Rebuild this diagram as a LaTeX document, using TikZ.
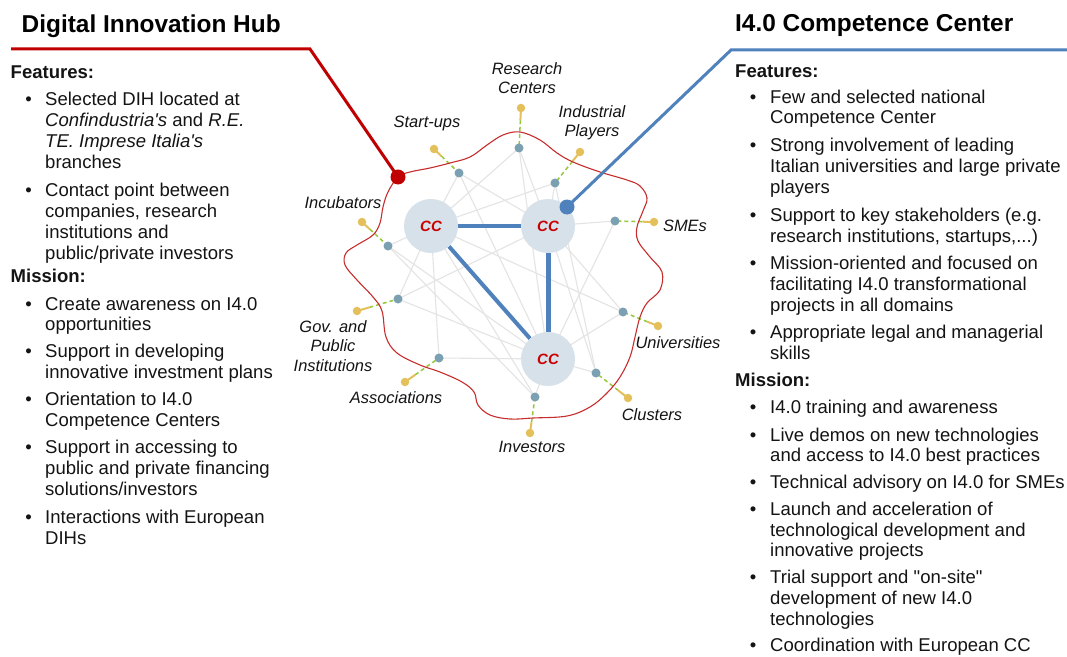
\documentclass[tikz,border=0pt]{standalone}
\usepackage{fontspec}
\setmainfont{Liberation Sans}[Ligatures=TeXOff]
\usetikzlibrary{calc}
\definecolor{redc}{RGB}{192,0,0}
\definecolor{bluec}{RGB}{79,129,189}
\definecolor{blobc}{RGB}{200,45,45}
\definecolor{ccfill}{RGB}{214,225,233}
\definecolor{ccred}{RGB}{204,0,0}
\definecolor{tealc}{RGB}{122,160,178}
\definecolor{yelc}{RGB}{228,192,90}
\definecolor{greenc}{RGB}{150,200,60}
\definecolor{glc}{RGB}{228,228,228}
\definecolor{txtc}{RGB}{20,20,20}
\pgfdeclarelayer{bg}
\pgfdeclarelayer{edges}
\pgfdeclarelayer{mid}
\pgfsetlayers{bg,edges,mid,main}
\begin{document}
\begin{tikzpicture}[x=1bp,y=-1bp,
  body/.style={font=\fontsize{18.6}{21}\selectfont, anchor=base west, inner sep=0, text=txtc},
  head/.style={font=\fontsize{18.6}{21}\selectfont\bfseries, anchor=base west, inner sep=0, text=txtc},
  ttl/.style={font=\fontsize{24.5}{28}\selectfont\bfseries, anchor=base west, inner sep=0, text=black},
  bul/.style={font=\fontsize{18.6}{21}\selectfont, anchor=base, inner sep=0, text=txtc},
  lbl/.style={font=\fontsize{16.5}{19.5}\selectfont\itshape, align=center, inner sep=0, text=txtc},
  ccnode/.style={circle, fill=ccfill, minimum size=54bp, inner sep=0, font=\fontsize{15}{15}\selectfont\bfseries\itshape, text=ccred},
  tealdot/.style={circle, fill=tealc, minimum size=9bp, inner sep=0},
  yeldot/.style={circle, fill=yelc, minimum size=8.5bp, inner sep=0},
  greyedge/.style={draw=glc, line width=1.1bp},
  ccedge/.style={draw=bluec, line width=4bp},
  bigdot/.style={circle, minimum size=15bp, inner sep=0},
]
\begin{pgfonlayer}{bg}
\fill[white] (0,0) rectangle (1067,657);
\end{pgfonlayer}
\useasboundingbox (0,0) rectangle (1067,657);

% ---------- central network ----------
\node[ccnode] (cc1) at (431,226) {CC};
\node[ccnode] (cc2) at (548,226) {CC};
\node[ccnode] (cc3) at (548,359) {CC};

\foreach \n/\tx/\ty/\yx/\yy in {R/519/148/521/108, I/555/183/580/152, S/459/173/434/149,
  Inc/388/246/362/222, SME/615/221/654/222, G/398/299/357/311, U/623/312/658/326,
  A/439/358/405/382, Cl/596/373/628/398, Inv/535/397/530/433}{
  \node[tealdot] (t\n) at (\tx,\ty) {};
  \node[yeldot] (y\n) at (\yx,\yy) {};
  \begin{pgfonlayer}{edges}
    \draw[greenc, line width=1.5bp, dash pattern=on 4bp off 3bp] ($(y\n.center)!0.3!(t\n.center)$) -- (t\n.center);
    \draw[yelc, line width=2bp] (y\n.center) -- ($(y\n.center)!0.3!(t\n.center)$);
  \end{pgfonlayer}
}

\begin{pgfonlayer}{edges}
  \foreach \a/\b in {tS/cc1, tS/cc2, tS/cc3, tR/cc1, tR/cc2, tR/cc3, tI/cc1, tI/cc2,
    tInc/cc1, tInc/cc3, tSME/cc2, tSME/cc3, tG/cc1, tG/cc2, tG/cc3,
    tU/cc1, tU/cc2, tU/cc3, tA/cc1, tA/cc3, tCl/cc2, tCl/cc3, tCl/tI,
    tInv/cc1, tInv/cc3, tInv/tInc}{
    \draw[greyedge] (\a.center) -- (\b.center);
  }
  \draw[ccedge] (cc1) -- (cc2);
  \draw[ccedge] (cc1) -- (cc3);
  \draw[ccedge, line width=5bp] (cc2) -- (cc3);
  \draw[blobc, line width=1.1bp] plot[smooth cycle, tension=0.6] coordinates {
    (398,177) (410,172) (430,168) (450,163) (470,157) (487,145) (503,135) (520,132)
    (540,140) (557,153) (573,162) (600,172) (627,180) (640,186) (647,198) (643,211)
    (637,227) (638,241) (650,257) (662,272) (660,290) (647,303) (640,317) (635,337)
    (630,357) (620,377) (607,393) (590,407) (567,416) (533,418) (510,419) (490,415)
    (478,405) (474,392) (462,382) (440,372) (420,365) (397,353) (386,337) (382,311)
    (373,297) (357,280) (345,265) (346,253) (357,245) (373,235) (380,223) (383,207) (388,192)};
\end{pgfonlayer}

% connectors to the side panels
\node[bigdot, fill=redc] (rdot) at (398,177) {};
\node[bigdot, fill=bluec] (bdot) at (567,207) {};
\coordinate (rA) at (11,49);
\coordinate (rB) at (310,49);
\coordinate (bA) at (1067,50);
\coordinate (bB) at (731,50);
\begin{pgfonlayer}{mid}
  \draw[redc, line width=3bp] (rA) -- (rB) -- (rdot.center);
  \draw[bluec, line width=3bp] (bA) -- (bB) -- (bdot.center);
\end{pgfonlayer}

% labels
\node[lbl] (lR) at (527,78) {Research\\Centers};
\node[lbl] (lI) at (592,123) {Industrial\\Players};
\node[lbl] (lS) at (427,123) {Start-ups};
\node[lbl] (lInc) at (343,203) {Incubators};
\node[lbl] (lSME) at (685,226) {SMEs};
\node[lbl] (lG) at (333,346) {Gov. and\\Public\\Institutions};
\node[lbl] (lU) at (678,343) {Universities};
\node[lbl] (lA) at (396,398) {Associations};
\node[lbl] (lCl) at (652,415) {Clusters};
\node[lbl] (lInv) at (532,447) {Investors};

% ---------- left panel ----------
\node[ttl] (tl) at (21.5,33) {Digital Innovation Hub};
\node[head] (hl1) at (10.5,79) {Features:};
\node[head] (hl2) at (10.5,282.7) {Mission:};
\foreach \yy [count=\i] in {106,196.7,310,357.7,405.7,453.3,523}{
  \node[bul] (bl\i) at (28.5,\yy) {•};
}
\foreach \yy/\tx [count=\i] in {
  106/{Selected DIH located at},
  126.7/{\textit{Confindustria's} and \textit{R.E.}},
  147.7/{\textit{TE. Imprese Italia's}},
  168.3/{branches},
  196.7/{Contact point between},
  217.3/{companies, research},
  238.3/{institutions and},
  259/{public/private investors},
  310/{Create awareness on I4.0},
  330.7/{opportunities},
  357.7/{Support in developing},
  378.3/{innovative investment plans},
  405.7/{Orientation to I4.0},
  426.7/{Competence Centers},
  453.3/{Support in accessing to},
  474.3/{public and private financing},
  495/{solutions/investors},
  523/{Interactions with European},
  544/{DIHs}}{
  \node[body] (ll\i) at (45,\yy) {\tx};
}

% ---------- right panel ----------
\node[ttl] (tr) at (735,31.7) {I4.0 Competence Center};
\node[head] (hr1) at (735,77.3) {Features:};
\node[head] (hr2) at (735,386.7) {Mission:};
\foreach \yy [count=\i] in {103.3,151.7,221,269.3,338.3,413.3,441,488.3,515,583.3,651.7}{
  \node[bul] (br\i) at (753,\yy) {•};
}
\foreach \yy/\tx [count=\i] in {
  103.3/{Few and selected national},
  124/{Competence Center},
  151.7/{Strong involvement of leading},
  172.7/{Italian universities and large private},
  193.5/{players},
  221/{Support to key stakeholders (e.g.},
  242/{research institutions, startups,...)},
  269.3/{Mission-oriented and focused on},
  290/{facilitating I4.0 transformational},
  311/{projects in all domains},
  338.3/{Appropriate legal and managerial},
  359.3/{skills},
  413.3/{I4.0 training and awareness},
  441/{Live demos on new technologies},
  461.5/{and access to I4.0 best practices},
  488.3/{Technical advisory on I4.0 for SMEs},
  515/{Launch and acceleration of},
  536/{technological development and},
  556.7/{innovative projects},
  583.3/{Trial support and "on-site"},
  604/{development of new I4.0},
  625/{technologies},
  651.7/{Coordination with European CC}}{
  \node[body] (lr\i) at (770,\yy) {\tx};
}
\end{tikzpicture}
\end{document}
